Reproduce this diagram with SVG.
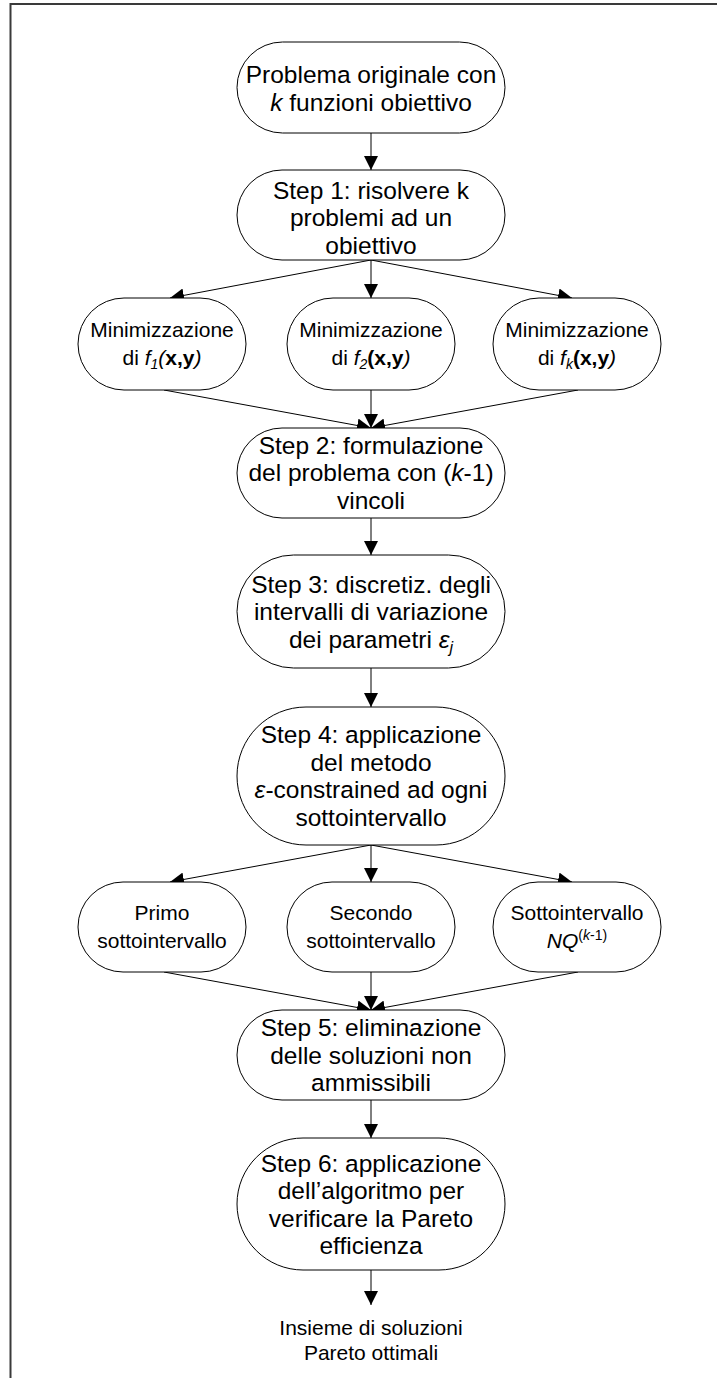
<svg xmlns="http://www.w3.org/2000/svg" width="717" height="1378" viewBox="0 0 717 1378">
  <defs>
    <marker id="arrow" markerUnits="userSpaceOnUse" markerWidth="15" markerHeight="14" refX="14" refY="7" orient="auto">
      <path d="M0,0 L14,7 L0,14 z" fill="#000"/>
    </marker>
    <style>
      .frame { fill: none; stroke: #3a3a3a; stroke-width: 2; }
      .node { fill: #fff; stroke: #000; stroke-width: 1; }
      .edge { fill: none; stroke: #000; stroke-width: 1; marker-end: url(#arrow); }
      .t { font-family: "Liberation Sans", Arial, sans-serif; font-size: 24.5px; fill: #000; text-anchor: middle; }
      .s { font-family: "Liberation Sans", Arial, sans-serif; font-size: 21px; fill: #000; text-anchor: middle; }
      .i { font-style: italic; }
      .b { font-weight: bold; }
    </style>
  </defs>

  <rect width="717" height="1378" fill="#fff"/>
  <!-- page frame: top and left edges only -->
  <path class="frame" d="M10.5,1378 V4 H717"/>

  <!-- connectors -->
  <g id="connectors">
    <line class="edge" x1="371" y1="133" x2="371" y2="170"/>
    <line class="edge" x1="371" y1="260" x2="170" y2="298"/>
    <line class="edge" x1="371" y1="260" x2="371" y2="298"/>
    <line class="edge" x1="371" y1="260" x2="572" y2="298"/>
    <line class="edge" x1="164" y1="390" x2="371" y2="428"/>
    <line class="edge" x1="371" y1="390" x2="371" y2="428"/>
    <line class="edge" x1="578" y1="390" x2="371" y2="428"/>
    <line class="edge" x1="371" y1="518" x2="371" y2="555"/>
    <line class="edge" x1="371" y1="668" x2="371" y2="707"/>
    <line class="edge" x1="371" y1="845" x2="170" y2="882"/>
    <line class="edge" x1="371" y1="845" x2="371" y2="882"/>
    <line class="edge" x1="371" y1="845" x2="572" y2="882"/>
    <line class="edge" x1="164" y1="972" x2="371" y2="1010"/>
    <line class="edge" x1="371" y1="972" x2="371" y2="1010"/>
    <line class="edge" x1="578" y1="972" x2="371" y2="1010"/>
    <line class="edge" x1="371" y1="1100" x2="371" y2="1138"/>
    <line class="edge" x1="371" y1="1270" x2="371" y2="1305"/>
  </g>

  <g id="start">
    <rect class="node" x="237" y="42" width="268" height="91" rx="45.5" ry="45.5"/>
    <text class="t" x="371" y="83">Problema originale con</text>
    <text class="t" x="371" y="111"><tspan class="i">k</tspan> funzioni obiettivo</text>
  </g>

  <g id="step1">
    <rect class="node" x="237" y="170" width="268" height="90" rx="45" ry="45"/>
    <text class="t" x="371" y="198.5">Step 1: risolvere k</text>
    <text class="t" x="371" y="226">problemi ad un</text>
    <text class="t" x="371" y="253.5">obiettivo</text>
  </g>

  <g id="min-f1">
    <rect class="node" x="78" y="298" width="168" height="92" rx="46" ry="46"/>
    <text class="s" x="162" y="337">Minimizzazione</text>
    <text class="s" x="162" y="365">di <tspan class="i">f</tspan><tspan class="i" font-size="14" dy="4">1</tspan><tspan class="i" dy="-4">(</tspan><tspan class="b">x,y</tspan><tspan class="i">)</tspan></text>
  </g>

  <g id="min-f2">
    <rect class="node" x="287" y="298" width="168" height="92" rx="46" ry="46"/>
    <text class="s" x="371" y="337">Minimizzazione</text>
    <text class="s" x="371" y="365">di <tspan class="i">f</tspan><tspan class="i" font-size="14" dy="4">2</tspan><tspan class="b" dy="-4">(x,y</tspan><tspan class="i">)</tspan></text>
  </g>

  <g id="min-fk">
    <rect class="node" x="493" y="298" width="168" height="92" rx="46" ry="46"/>
    <text class="s" x="577" y="337">Minimizzazione</text>
    <text class="s" x="577" y="365">di <tspan class="i">f</tspan><tspan class="i" font-size="14" dy="4">k</tspan><tspan class="b" dy="-4">(x,y</tspan><tspan class="i">)</tspan></text>
  </g>

  <g id="step2">
    <rect class="node" x="237" y="428" width="268" height="90" rx="45" ry="45"/>
    <text class="t" x="371" y="453.5">Step 2: formulazione</text>
    <text class="t" x="371" y="481">del problema con (<tspan class="i">k</tspan>-1)</text>
    <text class="t" x="371" y="508.5">vincoli</text>
  </g>

  <g id="step3">
    <rect class="node" x="237" y="555" width="268" height="113" rx="56.5" ry="56.5"/>
    <text class="t" x="371" y="592.5">Step 3: discretiz. degli</text>
    <text class="t" x="371" y="620">intervalli di variazione</text>
    <text class="t" x="371" y="647.5">dei parametri <tspan class="i">ε</tspan><tspan class="i" font-size="16" dy="5">j</tspan></text>
  </g>

  <g id="step4">
    <rect class="node" x="237" y="707" width="268" height="138" rx="69" ry="69"/>
    <text class="t" x="371" y="743">Step 4: applicazione</text>
    <text class="t" x="371" y="770.5">del metodo</text>
    <text class="t" x="371" y="798"><tspan class="i">ε</tspan>-constrained ad ogni</text>
    <text class="t" x="371" y="825.5">sottointervallo</text>
  </g>

  <g id="sub-1">
    <rect class="node" x="78" y="882" width="168" height="90" rx="45" ry="45"/>
    <text class="s" x="162" y="920">Primo</text>
    <text class="s" x="162" y="948">sottointervallo</text>
  </g>

  <g id="sub-2">
    <rect class="node" x="287" y="882" width="168" height="90" rx="45" ry="45"/>
    <text class="s" x="371" y="920">Secondo</text>
    <text class="s" x="371" y="948">sottointervallo</text>
  </g>

  <g id="sub-n">
    <rect class="node" x="493" y="882" width="168" height="90" rx="45" ry="45"/>
    <text class="s" x="577" y="920">Sottointervallo</text>
    <text class="s" x="577" y="948"><tspan class="i">NQ</tspan><tspan font-size="14" dy="-8">(<tspan class="i">k</tspan>-1)</tspan></text>
  </g>

  <g id="step5">
    <rect class="node" x="237" y="1010" width="268" height="90" rx="45" ry="45"/>
    <text class="t" x="371" y="1036">Step 5: eliminazione</text>
    <text class="t" x="371" y="1063.5">delle soluzioni non</text>
    <text class="t" x="371" y="1091">ammissibili</text>
  </g>

  <g id="step6">
    <rect class="node" x="237" y="1138" width="268" height="132" rx="66" ry="66"/>
    <text class="t" x="371" y="1171.5">Step 6: applicazione</text>
    <text class="t" x="371" y="1199">dell’algoritmo per</text>
    <text class="t" x="371" y="1226.5">verificare la Pareto</text>
    <text class="t" x="371" y="1254">efficienza</text>
  </g>

  <g id="result">
    <text class="s" x="371" y="1334.5">Insieme di soluzioni</text>
    <text class="s" x="371" y="1359.5">Pareto ottimali</text>
  </g>
</svg>
